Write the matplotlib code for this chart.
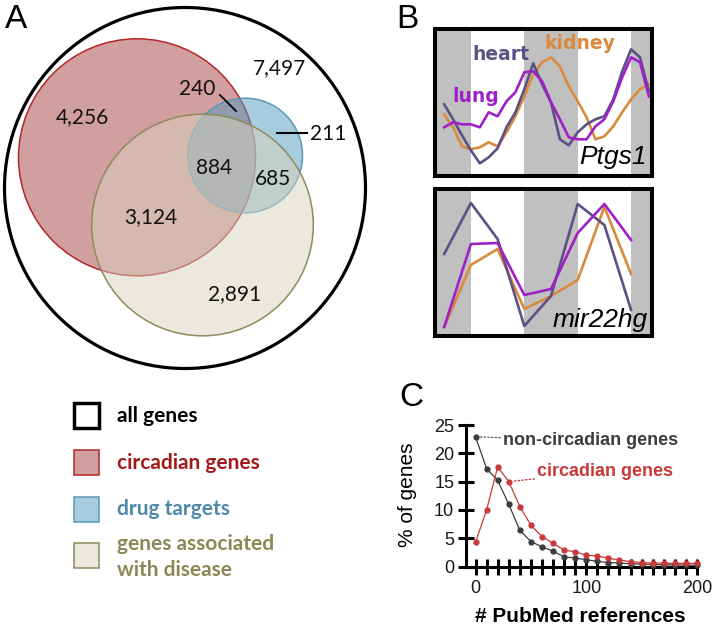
import matplotlib
matplotlib.use('Agg')
import matplotlib.pyplot as plt
from matplotlib.patches import Circle, Rectangle
from matplotlib.ticker import FuncFormatter

# ---------------- data ----------------
# panel A: gene counts in each Venn region
venn_counts = ['7,497', '4,256', '240', '211', '884', '685', '3,124', '2,891']
legend_labels = ['all genes', 'circadian genes', 'drug targets',
                 'genes associated\nwith disease']

# panel B: circadian time (hours) and relative expression
ct_ptgs1 = [18, 20, 22, 24, 26, 28, 30, 32, 34, 36, 38, 40,
            42, 44, 46, 48, 50, 52, 54, 56, 58, 60, 62, 64]
ptgs1_heart = [72, 57, 41, 26, 13, 19, 28, 49, 64, 87, 113, 92,
               74, 37, 31, 44, 52, 57, 60, 77, 105, 127, 119, 85]
ptgs1_lung = [49, 54, 52, 52, 49, 64, 60, 75, 84, 104, 105, 95,
              74, 57, 39, 37, 37, 50, 57, 75, 99, 119, 114, 80]
ptgs1_kidney = [62, 49, 30, 27, 29, 34, 30, 44, 60, 80, 102, 114,
                119, 110, 90, 75, 59, 37, 40, 50, 64, 77, 87, 92]

ct_mir22hg = [18, 24, 30, 36, 42, 48, 54, 60]
mir22hg_heart = [82, 133, 97, 10, 40, 132, 111, 26]
mir22hg_lung = [9, 92, 93, 41, 47, 103, 132, 96]
mir22hg_kidney = [9, 71, 87, 27, 40, 56, 129, 62]

night_starts = [12, 36, 60]   # subjective night, 12 h each

# panel C: distribution of PubMed references
pubmed_bins = [0, 10, 20, 30, 40, 50, 60, 70, 80, 90, 100,
               110, 120, 130, 140, 150, 160, 170, 180, 190, 200]
pct_noncirc = [22.9, 17.3, 15.2, 11.0, 6.4, 4.4, 3.5, 2.7, 1.7, 1.5, 1.2,
               0.9, 0.7, 0.6, 0.5, 0.4, 0.35, 0.3, 0.3, 0.25, 0.2]
pct_circ = [4.3, 10.0, 17.6, 15.0, 10.6, 7.3, 5.3, 4.1, 2.9, 2.6, 2.0,
            1.85, 1.45, 1.15, 0.85, 0.7, 0.6, 0.6, 0.55, 0.55, 0.55]

# ---------------- colours ----------------
red_fc = (167/255, 65/255, 65/255, 0.5)
blue_fc = (81/255, 155/255, 189/255, 0.5)
beige_fc = (217/255, 211/255, 189/255, 0.5)
red_ec, blue_ec, beige_ec = '#b3262a', '#5a98b5', '#8e8a5a'
heart_c, lung_c, kidney_c = '#5c5184', '#a020c8', '#d98a3c'
noncirc_c, circ_c = '#3c3c3c', '#c83a3a'

W, H = 716, 632
fig = plt.figure(figsize=(W/100, H/100), dpi=100)

# ---------------- panel A ----------------
axA = fig.add_axes([0, 0, 420/W, 1])
axA.set_xlim(0, 420)
axA.set_ylim(H, 0)
axA.axis('off')

axA.add_patch(Circle((185, 188), 180.5, fill=False, ec='black', lw=2.3))
axA.add_patch(Circle((137, 157.3), 118.5, fc=red_fc, ec=red_ec, lw=1.1))
axA.add_patch(Circle((245.2, 155.5), 57.3, fc=blue_fc, ec=blue_ec, lw=1.1))
axA.add_patch(Circle((202.5, 225), 110.8, fc=beige_fc, ec=beige_ec, lw=1.1))

count_xy = [(280, 68.5), (82.5, 117.5), (197, 89), (328, 134),
            (214, 167.5), (273, 179), (151, 217.5), (235, 294)]
for txt, (x, y) in zip(venn_counts, count_xy):
    axA.text(x, y, txt, ha='center', va='center', fontsize=15,
             family='Lato', color='#111111')
axA.plot([220, 236], [95, 111], color='black', lw=1.3)
axA.plot([276.7, 306.7], [133.3, 133.3], color='black', lw=1.5)

# legend
box_fc = ['none', red_fc, blue_fc, beige_fc]
box_ec = ['black', red_ec, blue_ec, beige_ec]
box_lw = [2.5, 1.1, 1.1, 1.1]
box_top = [403, 450, 497, 543]
txt_y = [416, 463, 509, 557]
txt_c = ['black', '#a3191c', '#5089a8', '#8b8755']
for i, lab in enumerate(legend_labels):
    axA.add_patch(Rectangle((74, box_top[i]), 25, 25, fc=box_fc[i],
                            ec=box_ec[i], lw=box_lw[i]))
    axA.text(117, txt_y[i], lab, ha='left', va='center', fontsize=15,
             family='Lato', fontweight='bold', color=txt_c[i],
             linespacing=1.4)

# ---------------- panel B ----------------
def expr_panel(rect, ct, heart, lung, kidney, ytop):
    ax = fig.add_axes(rect)
    for s in night_starts:
        ax.axvspan(s, s + 12, color='#c0c0c0', lw=0, zorder=0)
    ax.plot(ct, kidney, color=kidney_c, lw=1.9, zorder=2)
    ax.plot(ct, heart, color=heart_c, lw=1.9, zorder=3)
    ax.plot(ct, lung, color=lung_c, lw=1.9, zorder=4)
    ax.set_xlim(16, 64.7)
    ax.set_ylim(0, ytop)
    ax.set_xticks([])
    ax.set_yticks([])
    for sp in ax.spines.values():
        sp.set_linewidth(2.9)
        sp.set_color('black')
        sp.set_zorder(6)
    return ax

axB1 = expr_panel([435.3/W, 1 - 176.3/H, 216.7/W, 147.3/H],
                  ct_ptgs1, ptgs1_heart, ptgs1_lung, ptgs1_kidney, 147.3)
axB2 = expr_panel([435.3/W, 1 - 336/H, 216.7/W, 146.5/H],
                  ct_mir22hg, mir22hg_heart, mir22hg_lung, mir22hg_kidney, 146.5)

lab_kw = dict(ha='center', va='center', fontsize=13.5, fontweight='bold',
              family='DejaVu Sans', zorder=5)
axB1.text(30.75, 122, 'heart', color=heart_c, **lab_kw)
axB1.text(48.5, 133, 'kidney', color=kidney_c, **lab_kw)
axB1.text(25.1, 80, 'lung', color=lung_c, **lab_kw)
axB1.text(63.6, 19, 'Ptgs1', ha='right', va='center', fontsize=19,
          style='italic', family='Liberation Sans', zorder=5)
axB2.text(63.8, 16, 'mir22hg', ha='right', va='center', fontsize=19,
          style='italic', family='Liberation Sans', zorder=5)

# ---------------- panel C ----------------
axC = fig.add_axes([466/W, 1 - 566.5/H, 231/W, 141.5/H])
axC.plot(pubmed_bins, pct_noncirc, '-o', color=noncirc_c, lw=0.9, ms=3.5,
         clip_on=False, zorder=3)
axC.plot(pubmed_bins, pct_circ, '-o', color=circ_c, lw=0.9, ms=3.5,
         clip_on=False, zorder=4)
axC.set_xlim(-8.6, 200)
axC.set_ylim(0, 25)
for side in ['top', 'right']:
    axC.spines[side].set_visible(False)
for side in ['left', 'bottom']:
    axC.spines[side].set_linewidth(2.2)
axC.set_yticks([0, 5, 10, 15, 20, 25])
axC.set_xticks(pubmed_bins)
axC.xaxis.set_major_formatter(
    FuncFormatter(lambda v, p: f'{int(v)}' if v % 100 == 0 else ''))
axC.tick_params(axis='y', direction='inout', length=11, width=2.2, pad=3)
axC.tick_params(axis='x', direction='inout', length=12, width=2.2, pad=4)
for lab in axC.get_xticklabels() + axC.get_yticklabels():
    lab.set_family('Liberation Sans')
    lab.set_fontsize(13)
    lab.set_color('#1a1a1a')

axC.annotate('non-circadian genes', xy=(pubmed_bins[0], pct_noncirc[0]),
             xytext=(24.8, 22.3), ha='left', va='center', fontsize=13,
             fontweight='bold', family='Liberation Sans', color=noncirc_c,
             arrowprops=dict(arrowstyle='-', ls=':', lw=1.0, color='#666666',
                             shrinkA=0, shrinkB=3))
axC.annotate('circadian genes', xy=(pubmed_bins[3], pct_circ[3]),
             xytext=(55.5, 16.8), ha='left', va='center', fontsize=13,
             fontweight='bold', family='Liberation Sans', color=circ_c,
             arrowprops=dict(arrowstyle='-', ls=':', lw=1.0, color=circ_c,
                             shrinkA=0, shrinkB=3))

fig.text(407/W, 1 - 495/H, '% of genes', rotation=90, ha='center',
         va='center', fontsize=15, family='Liberation Sans')
fig.text(580/W, 1 - 617/H, '# PubMed references', ha='center', va='center',
         fontsize=15, fontweight='bold', family='Liberation Sans')

# panel letters
for letter, (x, y) in zip('ABC', [(16, 20), (407, 20), (411, 398)]):
    fig.text(x/W, 1 - y/H, letter, ha='center', va='center', fontsize=24,
             family='Liberation Sans')

fig.savefig('out.png', dpi=100)
